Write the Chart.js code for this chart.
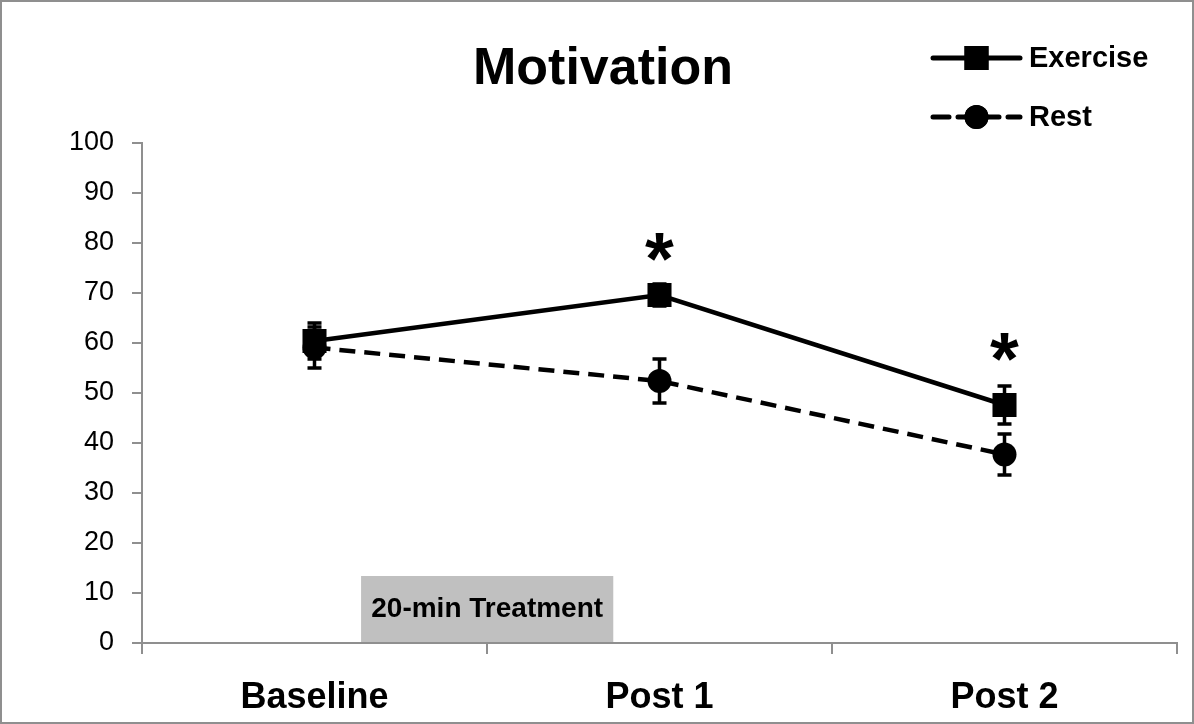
<!DOCTYPE html>
<html>
<head>
<meta charset="utf-8">
<script src="https://cdn.jsdelivr.net/npm/chart.js@4.4.1/dist/chart.umd.min.js"></script>
<style>
	html, body { margin: 0; padding: 0; background: #fff; }
	#wrap { width: 1194px; height: 724px; }
</style>
</head>
<body>
<div id="wrap"><canvas id="js-motivation-chart" width="1194" height="724"></canvas></div>
<script>
const categories = ['Baseline', 'Post 1', 'Post 2'];
const exerciseValues = [60.4, 69.6, 47.6];
const exerciseErrors = [3.6, 2.2, 3.8];
const restValues = [59.1, 52.4, 37.7];
const restErrors = [4.1, 4.4, 4.1];
const sigMarks = ['', '*', '*'];
const sigLevels = [null, 79.3, 59.3];
const yTicks = [0, 10, 20, 30, 40, 50, 60, 70, 80, 90, 100];

const font = "'Liberation Sans', Arial, sans-serif";
const axisGrey = '#8f8f8f';

// gray "20-min Treatment" box, in category / value units
const treatmentBox = { from: 0.135, to: 0.866, top: 13.4, text: '20-min Treatment' };

const frame = {
	id: 'frame',
	beforeDraw(chart) {
		const c = chart.ctx;
		c.save();
		c.fillStyle = '#fff';
		c.fillRect(0, 0, chart.width, chart.height);
		c.strokeStyle = axisGrey;
		c.lineWidth = 2;
		c.strokeRect(1, 1, chart.width - 2, chart.height - 2);
		c.restore();
	},
};

const treatment = {
	id: 'treatment',
	beforeDatasetsDraw(chart) {
		const c = chart.ctx;
		const x = chart.scales.x;
		const y = chart.scales.y;
		const x0 = x.getPixelForValue(treatmentBox.from);
		const x1 = x.getPixelForValue(treatmentBox.to);
		const y0 = y.getPixelForValue(treatmentBox.top);
		const y1 = y.getPixelForValue(0) - 1;
		c.save();
		c.fillStyle = '#c0c0c0';
		c.fillRect(x0, y0, x1 - x0, y1 - y0);
		c.fillStyle = '#000';
		c.font = 'bold 28px ' + font;
		c.textAlign = 'center';
		c.textBaseline = 'middle';
		c.fillText(treatmentBox.text, (x0 + x1) / 2, (y0 + y1) / 2);
		c.restore();
	},
};

const errorBars = {
	id: 'errorBars',
	beforeDatasetsDraw(chart) {
		const c = chart.ctx;
		const y = chart.scales.y;
		[1, 0].forEach((di) => {
			const meta = chart.getDatasetMeta(di);
			const vals = chart.data.datasets[di].data;
			const errs = di === 0 ? exerciseErrors : restErrors;
			meta.data.forEach((pt, i) => {
				const top = y.getPixelForValue(vals[i] + errs[i]);
				const bot = y.getPixelForValue(vals[i] - errs[i]);
				c.save();
				c.strokeStyle = '#000';
				c.lineWidth = 3.5;
				c.beginPath();
				c.moveTo(pt.x, top);
				c.lineTo(pt.x, bot);
				c.moveTo(pt.x - 7, top);
				c.lineTo(pt.x + 7, top);
				c.moveTo(pt.x - 7, bot);
				c.lineTo(pt.x + 7, bot);
				c.stroke();
				c.restore();
			});
		});
	},
};

const asterisks = {
	id: 'asterisks',
	afterDatasetsDraw(chart) {
		const c = chart.ctx;
		const x = chart.scales.x;
		const y = chart.scales.y;
		c.save();
		c.fillStyle = '#000';
		c.font = 'bold 74px ' + font;
		c.textAlign = 'center';
		c.textBaseline = 'alphabetic';
		sigMarks.forEach((m, i) => {
			if (!m) return;
			const mt = c.measureText(m);
			const py = y.getPixelForValue(sigLevels[i]);
			const base = py + (mt.actualBoundingBoxAscent - mt.actualBoundingBoxDescent) / 2;
			c.fillText(m, x.getPixelForValue(i), base);
		});
		c.restore();
	},
};

const lineLegend = {
	id: 'lineLegend',
	afterDraw(chart) {
		const c = chart.ctx;
		const x0 = 933;
		const x1 = 1020;
		const rows = [58, 117];
		c.save();
		chart.data.datasets.forEach((ds, i) => {
			const yy = rows[i];
			c.strokeStyle = '#000';
			c.lineWidth = 5;
			c.lineCap = 'round';
			c.setLineDash(ds.borderDash || []);
			c.beginPath();
			c.moveTo(x0, yy);
			c.lineTo(x1, yy);
			c.stroke();
			c.setLineDash([]);
			Chart.helpers.drawPoint(c, {
				pointStyle: ds.pointStyle,
				radius: ds.pointRadius,
				borderWidth: 0,
			}, (x0 + x1) / 2, yy);
			c.fillStyle = '#000';
			c.fill();
			c.font = 'bold 29px ' + font;
			c.textAlign = 'left';
			c.textBaseline = 'middle';
			c.fillText(ds.label, x1 + 9, yy + 1);
		});
		c.restore();
	},
};

const ctx = document.getElementById('js-motivation-chart');
const myChart = new Chart(ctx, {
	type: 'line',
	data: {
		labels: categories,
		datasets: [
			{
				label: 'Exercise',
				data: exerciseValues,
				borderColor: '#000',
				borderWidth: 4.5,
				backgroundColor: '#000',
				pointStyle: 'rect',
				pointRadius: 17,
				pointBorderWidth: 0,
				pointBackgroundColor: '#000',
				tension: 0,
			},
			{
				label: 'Rest',
				data: restValues,
				borderColor: '#000',
				borderWidth: 4.5,
				borderDash: [16, 9],
				backgroundColor: '#000',
				pointStyle: 'circle',
				pointRadius: 12,
				pointBorderWidth: 0,
				pointBackgroundColor: '#000',
				tension: 0,
			},
		],
	},
	options: {
		responsive: false,
		animation: false,
		devicePixelRatio: 1,
		layout: {
			padding: { left: 24, right: 12, top: 0, bottom: 0 },
		},
		plugins: {
			legend: { display: false },
			tooltip: { enabled: false },
			title: {
				display: true,
				text: 'Motivation',
				color: '#000',
				font: { family: font, size: 52, weight: 'bold', lineHeight: 1 },
				padding: { top: 44, bottom: 47 },
			},
		},
		scales: {
			x: {
				offset: true,
				grid: {
					offset: true,
					drawOnChartArea: false,
					tickLength: 11,
					color: axisGrey,
					lineWidth: 2,
				},
				border: { color: axisGrey, width: 2 },
				ticks: {
					color: '#000',
					padding: 22,
					font: { family: font, size: 36, weight: 'bold' },
				},
				afterFit(scale) {
					scale.height = 81;
				},
			},
			y: {
				min: 0,
				max: 100,
				grid: {
					drawOnChartArea: false,
					tickLength: 10,
					color: axisGrey,
					lineWidth: 2,
				},
				border: { color: axisGrey, width: 2 },
				afterBuildTicks(scale) {
					scale.ticks = yTicks.map((v) => ({ value: v }));
				},
				ticks: {
					color: '#000',
					padding: 18,
					font: { family: font, size: 27 },
				},
				afterFit(scale) {
					scale.width = 118;
				},
			},
		},
	},
	plugins: [frame, treatment, errorBars, asterisks, lineLegend],
});
</script>
</body>
</html>
